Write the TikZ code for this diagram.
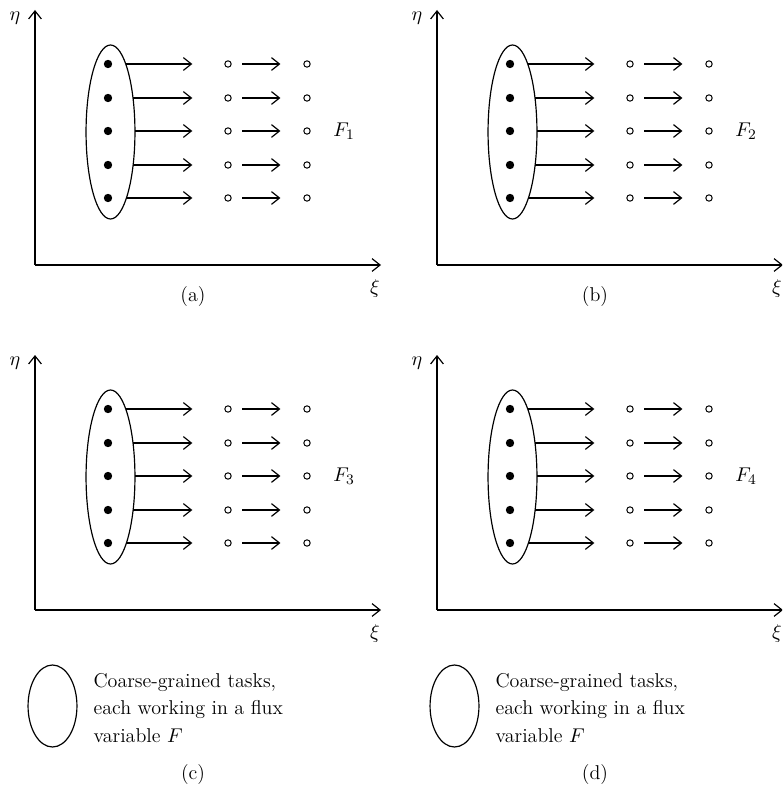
\documentclass[tikz,border=0pt]{standalone}
\usetikzlibrary{arrows.meta,shapes.geometric,calc}
\begin{document}
\begin{tikzpicture}[x=0.55pt,y=-0.55pt,line width=0.65pt,font=\fontsize{11}{15.1}\selectfont]
\tikzset{
  tip/.style={-{Straight Barb[length=4.4pt,width=7pt]}},
  dot/.style={circle,fill,inner sep=0pt,minimum size=4.6pt},
  hole/.style={circle,draw,inner sep=0pt,minimum size=3.5pt,line width=0.55pt},
  task/.style={ellipse,draw,inner sep=0pt,minimum width=26.9pt,minimum height=95.7pt},
  legendtask/.style={ellipse,draw,inner sep=0pt,minimum width=26.9pt,minimum height=45.1pt},
  legendtext/.style={anchor=base west,inner sep=0pt,align=left},
}
\useasboundingbox (0,0) rectangle (782,793);
\clip (0,0) rectangle (782,793);

% one flux panel: #1,#2 shift, #3 name prefix, #4 flux index
\newcommand\fluxpanel[4]{%
\begin{scope}[shift={(#1,#2)},name prefix=#3-]
  \coordinate (O) at (35,265);
  \coordinate (Ytop) at (35,10);
  \coordinate (Xend) at (381,265);
  \draw[tip] (O) -- (Ytop);
  \draw[tip] (O) -- (Xend);
  \node (eta) at (15,18) {$\eta$};
  \node (xi) at (375,289) {$\xi$};
  \node[task] (E) at (110.5,132) {};
  \foreach \yy [count=\i] in {64,98,131,165,198} {
    \node[dot] (d\i) at (108,\yy) {};
    \coordinate (s\i) at ($(E.center)+({24.5*sqrt(1-((\yy-132)/87)^2)},{\yy-132})$);
    \node[hole] (p\i) at (228,\yy) {};
    \node[hole] (q\i) at (307,\yy) {};
    \draw[tip,shorten >=17.6pt] (s\i) -- (p\i);
    \draw[tip,shorten <=5.7pt,shorten >=12.6pt] (p\i) -- (q\i);
  }
  \node (F) at (344,131) {$F_{#4}$};
\end{scope}}

\fluxpanel{0}{0}{a}{1}
\fluxpanel{402}{0}{b}{2}
\fluxpanel{0}{345}{c}{3}
\fluxpanel{402}{345}{d}{4}

% legends (base anchor sits on the last line)
\node[legendtask] (Lc) at (52.5,706) {};
\node[legendtext] (Tc) at (93,742) {Coarse-grained tasks,\\each working in a flux\\variable $F$};
\node[legendtask] (Ld) at (454.5,706) {};
\node[legendtext] (Td) at (495,742) {Coarse-grained tasks,\\each working in a flux\\variable $F$};

% sub-captions
\node (capa) at (193,297) {(a)};
\node (capb) at (595,297) {(b)};
\node (capc) at (193,774) {(c)};
\node (capd) at (595,774) {(d)};
\end{tikzpicture}
\end{document}
